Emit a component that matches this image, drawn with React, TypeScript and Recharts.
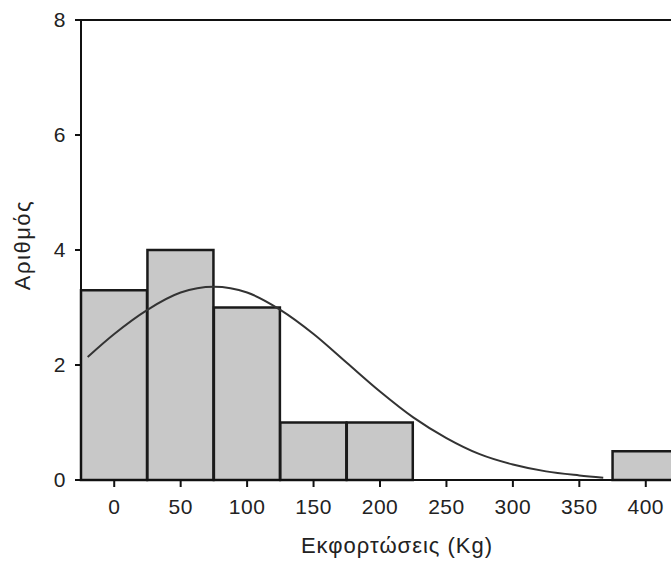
import { ComposedChart, Bar, Line, XAxis, YAxis, ReferenceLine, Label } from 'recharts';

// histogram bins (centre of each 50 Kg class) and counts
const binCenters = [0, 50, 100, 150, 200, 250, 300, 350, 400];
const binCounts = [3.3, 4, 3, 1, 1, 0, 0, 0, 0.5];

// fitted normal curve
const curveX = [-20, 0, 25, 50, 75, 100, 125, 150, 175, 200, 225, 250, 275, 300, 325, 350, 368];
const curveY = [2.14, 2.54, 2.96, 3.26, 3.36, 3.26, 2.96, 2.54, 2.04, 1.54, 1.09, 0.73, 0.45, 0.27, 0.15, 0.08, 0.04];

const xTicks = [0, 50, 100, 150, 200, 250, 300, 350, 400];
const yTicks = [0, 2, 4, 6, 8];

const bins = binCenters.map((x, i) => ({ x, count: binCounts[i] }));
const curve = curveX.map((x, i) => ({ x, density: curveY[i] }));

const font = '"Liberation Sans", Arial, sans-serif';
const tickStyle = { fill: '#222', fontSize: 21, fontFamily: font, letterSpacing: 0.5 };

export default function App() {
  return (
    <div style={{ position: 'absolute', left: 0, top: 0, width: 671, height: 562, overflow: 'hidden', background: '#fff' }}>
      <ComposedChart width={700} height={562} data={bins} barCategoryGap={0} margin={{ top: 20, right: 21, bottom: 0, left: 0 }}>
        <XAxis xAxisId="bins" dataKey="x" type="category" hide height={0} />
        <XAxis
          xAxisId="num"
          dataKey="x"
          type="number"
          domain={[-25, 425]}
          ticks={xTicks}
          allowDataOverflow
          height={82}
          tickSize={7}
          tickMargin={12}
          tick={tickStyle}
          stroke="#111"
          strokeWidth={2}
        >
          <Label
            content={({ viewBox }: any) => (
              <text x={viewBox.x + viewBox.width / 2 + 17} y={viewBox.y + 73} textAnchor="middle" fill="#222" fontSize={22} letterSpacing={1} fontFamily={font}>
                Εκφορτώσεις (Kg)
              </text>
            )}
          />
        </XAxis>
        <YAxis
          type="number"
          domain={[0, 8]}
          ticks={yTicks}
          width={81}
          tickSize={6}
          tickMargin={9}
          tick={tickStyle}
          stroke="#111"
          strokeWidth={2}
        >
          <Label
            content={({ viewBox }: any) => {
              const cx = 22;
              const cy = viewBox.y + viewBox.height / 2 - 5;
              return (
                <text x={cx} y={cy} transform={`rotate(-90, ${cx}, ${cy})`} textAnchor="middle" dominantBaseline="central" fill="#222" fontSize={22} letterSpacing={1.5} fontFamily={font}>
                  Αριθμός
                </text>
              );
            }}
          />
        </YAxis>
        <ReferenceLine xAxisId="num" y={8} stroke="#111" strokeWidth={2} />
        <Bar xAxisId="bins" dataKey="count" fill="#c8c8c8" stroke="#1a1a1a" strokeWidth={2.5} isAnimationActive={false} />
        <Line
          xAxisId="num"
          data={curve}
          dataKey="density"
          type="monotone"
          stroke="#333"
          strokeWidth={2}
          dot={false}
          activeDot={false}
          isAnimationActive={false}
        />
      </ComposedChart>
    </div>
  );
}
